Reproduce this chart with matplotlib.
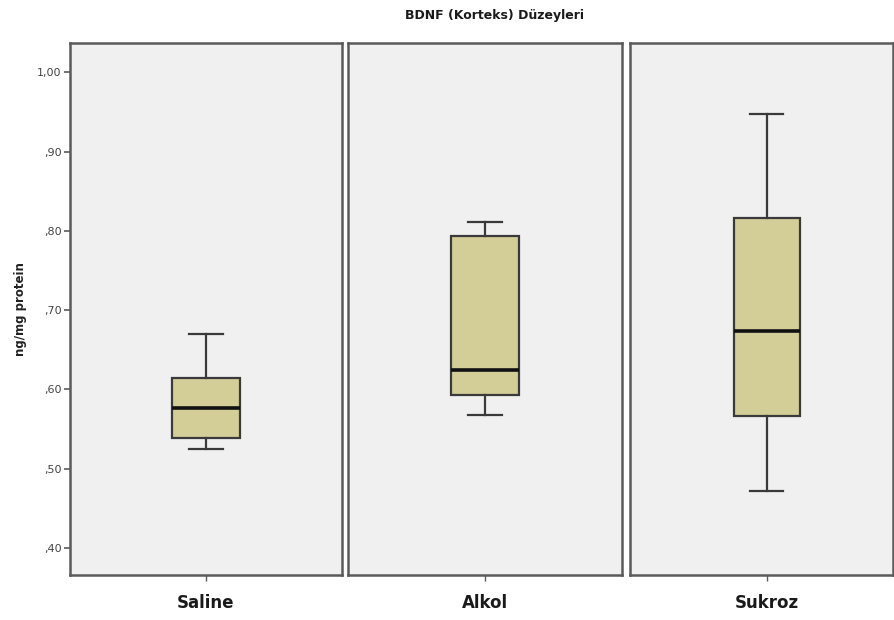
import matplotlib
matplotlib.use("Agg")
import matplotlib.pyplot as plt

# Summary statistics of BDNF levels per group (ng/mg protein)
groups = ["Saline", "Alkol", "Sukroz"]
whisker_low = [0.525, 0.568, 0.472]
q1 = [0.539, 0.593, 0.566]
median = [0.577, 0.624, 0.674]
q3 = [0.614, 0.793, 0.816]
whisker_high = [0.670, 0.811, 0.947]

y_ticks = [0.40, 0.50, 0.60, 0.70, 0.80, 0.90, 1.00]
y_tick_labels = [",40", ",50", ",60", ",70", ",80", ",90", "1,00"]

box_fill = "#d3ce97"
line_col = "#3a3a3a"
frame_col = "#5a5a5a"
panel_bg = "#f0f0f0"

fig = plt.figure(figsize=(8.95, 6.2), dpi=100)
fig.patch.set_facecolor("white")

W, H = 895.0, 620.0
panels_px = [(70, 342), (348, 622), (630, 893)]
panel_xlims = [(-1, 1), (-1, 1), (-1.04, 0.96)]
top_px, bottom_px = 43, 575

for i, (x0, x1) in enumerate(panels_px):
    ax = fig.add_axes([x0 / W, 1 - bottom_px / H, (x1 - x0) / W, (bottom_px - top_px) / H])
    ax.set_facecolor(panel_bg)
    stats = [dict(label=groups[i], whislo=whisker_low[i], q1=q1[i], med=median[i],
                  q3=q3[i], whishi=whisker_high[i], fliers=[])]
    ax.bxp(stats, positions=[0], widths=0.5, patch_artist=True, showfliers=False,
           boxprops=dict(facecolor=box_fill, edgecolor=line_col, linewidth=1.6),
           medianprops=dict(color="#111111", linewidth=2.6),
           whiskerprops=dict(color=line_col, linewidth=1.6),
           capprops=dict(color=line_col, linewidth=1.6),
           capwidths=0.25)
    ax.set_xlim(*panel_xlims[i])
    ax.set_ylim(0.366, 1.037)
    for s in ax.spines.values():
        s.set_color(frame_col)
        s.set_linewidth(1.8)
    ax.set_xticks([0])
    ax.set_xticklabels([groups[i]], fontsize=12, fontweight="bold", color="#1a1a1a")
    ax.tick_params(axis="x", length=4, width=1, color=frame_col, pad=10)
    if i == 0:
        ax.set_yticks(y_ticks)
        ax.set_yticklabels(y_tick_labels, fontsize=8, color="#444444")
        ax.tick_params(axis="y", length=4, width=1.2, color=frame_col, pad=2)
        ax.set_ylabel("ng/mg protein", fontsize=8.5, fontweight="bold", color="#222222", labelpad=7)
    else:
        ax.set_yticks([])

fig.text(495 / W, 1 - 15 / H, "BDNF (Korteks) Düzeyleri", ha="center", va="center",
         fontsize=9, fontweight="bold", color="#1a1a1a")

fig.savefig("out.png", dpi=100, facecolor="white")
